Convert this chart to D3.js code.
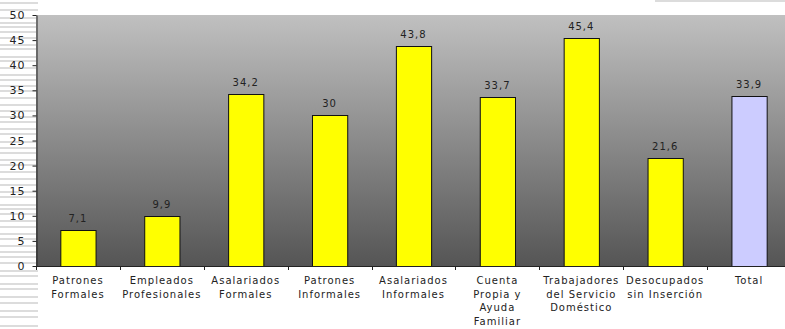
<!DOCTYPE html>
<html lang="es">
<head>
<meta charset="UTF-8">
<title>Chart</title>
<script src="https://d3js.org/d3.v7.min.js"></script>
<style>
  body { margin: 0; padding: 0; background: #fff; }
  svg { display: block; font-family: 'DejaVu Sans', Verdana, sans-serif; }
</style>
</head>
<body>
<div id="chart"></div>
<script>
// datos
const categories = [
  ["Patrones", "Formales"],
  ["Empleados", "Profesionales"],
  ["Asalariados", "Formales"],
  ["Patrones", "Informales"],
  ["Asalariados", "Informales"],
  ["Cuenta", "Propia y", "Ayuda", "Familiar"],
  ["Trabajadores", "del Servicio", "Doméstico"],
  ["Desocupados", "sin Inserción"],
  ["Total"]
];
const values = [7.1, 9.9, 34.2, 30, 43.8, 33.7, 45.4, 21.6, 33.9];
const barColors = ["#ffff00", "#ffff00", "#ffff00", "#ffff00", "#ffff00", "#ffff00", "#ffff00", "#ffff00", "#ccccff"];
const yTicks = [0, 5, 10, 15, 20, 25, 30, 35, 40, 45, 50];

const width = 785, height = 329;
const margin = { top: 15, left: 36, bottom: 63 };
const plotRight = 791;

const svg = d3.select('#chart').append('svg')
  .attr('width', width)
  .attr('height', height);

// rayas grises de fondo a la izquierda (artefacto del original)
const stripes = [2, 9, 17, 22, 26, 31, 37, 44, 48, 56, 60, 67, 74, 79, 85, 90, 97, 104, 110, 116, 121, 128, 133, 141, 147, 152, 159, 164, 171, 178, 184, 191, 196, 204, 208, 213, 220, 226, 233, 238, 245, 251, 256, 262, 270, 275, 283, 288, 296, 302, 310, 316, 325];
svg.selectAll('rect.stripe')
  .data(stripes)
  .enter().append('rect')
  .attr('class', 'stripe')
  .attr('x', 0)
  .attr('y', d => d)
  .attr('width', 38)
  .attr('height', 2)
  .attr('fill', '#dcdcdc');
svg.append('rect')
  .attr('x', 655).attr('y', 0)
  .attr('width', 130).attr('height', 2)
  .attr('fill', '#dcdcdc');

const x = d3.scaleBand()
  .domain(d3.range(values.length))
  .range([margin.left, plotRight])
  .paddingInner(0.58)
  .paddingOuter(0.29);

const y = d3.scaleLinear()
  .domain([0, 50])
  .range([height - margin.bottom, margin.top]);

const defs = svg.append('defs');
const grad = defs.append('linearGradient')
  .attr('id', 'bg')
  .attr('x1', 0).attr('y1', 0).attr('x2', 0).attr('y2', 1);
grad.append('stop').attr('offset', '0%').attr('stop-color', '#c0c0c0');
grad.append('stop').attr('offset', '100%').attr('stop-color', '#555555');

svg.append('rect')
  .attr('x', margin.left)
  .attr('y', y(50))
  .attr('width', plotRight - margin.left)
  .attr('height', y(0) - y(50))
  .attr('fill', 'url(#bg)');

// barras
svg.selectAll('rect.bar')
  .data(values)
  .enter().append('rect')
  .attr('class', 'bar')
  .attr('x', (d, i) => x(i) + 0.5)
  .attr('y', d => Math.round(y(d)) + 0.5)
  .attr('width', x.bandwidth())
  .attr('height', d => y(0) - Math.round(y(d)))
  .attr('fill', (d, i) => barColors[i])
  .attr('stroke', '#111')
  .attr('stroke-width', 1);

// etiquetas de valor
svg.selectAll('text.val')
  .data(values)
  .enter().append('text')
  .attr('class', 'val')
  .attr('x', (d, i) => x(i) + x.bandwidth() / 2)
  .attr('y', d => y(d) - 8)
  .attr('text-anchor', 'middle')
  .attr('font-size', 10)
  .attr('letter-spacing', 1)
  .attr('fill', '#222')
  .text(d => String(d).replace('.', ','));

// eje y
const yAxis = svg.append('g')
  .attr('transform', `translate(${margin.left + 0.5},0)`)
  .call(d3.axisLeft(y).tickValues(yTicks).tickSize(4).tickSizeOuter(0).tickPadding(7));
yAxis.select('.domain').attr('stroke', '#222');
yAxis.selectAll('.tick line').attr('stroke', '#222');
yAxis.selectAll('.tick text')
  .attr('font-size', 11)
  .attr('font-family', "'DejaVu Sans', Verdana, sans-serif")
  .attr('letter-spacing', 1)
  .attr('fill', '#222');

// eje x
const boundaries = d3.range(values.length + 1).map(i => margin.left + (plotRight - margin.left) * i / values.length);
svg.append('line')
  .attr('x1', margin.left).attr('x2', plotRight)
  .attr('y1', y(0) + 0.5).attr('y2', y(0) + 0.5)
  .attr('stroke', '#222');
svg.selectAll('line.xtick')
  .data(boundaries)
  .enter().append('line')
  .attr('class', 'xtick')
  .attr('x1', d => Math.round(d) + 0.5).attr('x2', d => Math.round(d) + 0.5)
  .attr('y1', y(0)).attr('y2', y(0) + 4)
  .attr('stroke', '#222');

const labels = svg.selectAll('text.cat')
  .data(categories)
  .enter().append('text')
  .attr('class', 'cat')
  .attr('text-anchor', 'middle')
  .attr('font-size', 10)
  .attr('letter-spacing', 1)
  .attr('fill', '#222');
labels.each(function(lines, i) {
  d3.select(this).selectAll('tspan')
    .data(lines)
    .enter().append('tspan')
    .attr('x', x(i) + x.bandwidth() / 2)
    .attr('y', (d, j) => y(0) + 18 + j * 13.5)
    .text(d => d);
});
</script>
</body>
</html>
